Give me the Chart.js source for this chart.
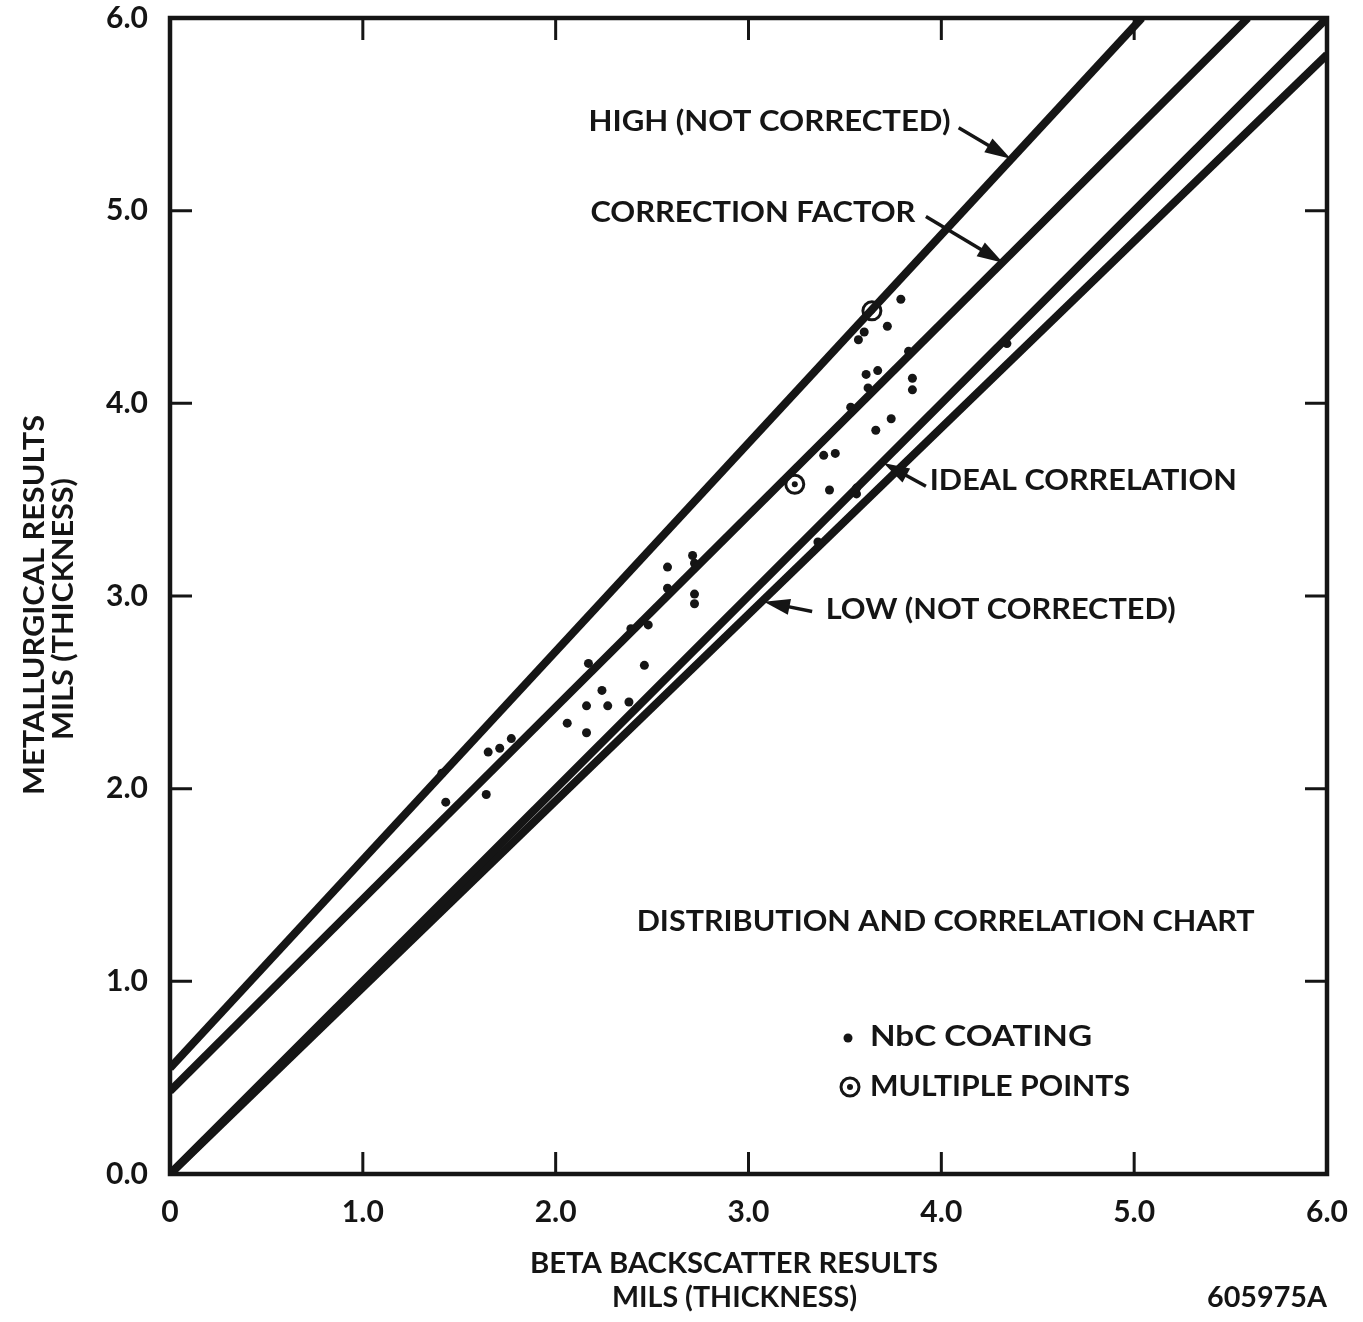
<!DOCTYPE html>
<html>
<head>
<meta charset="utf-8">
<title>Distribution and Correlation Chart</title>
<script src="https://cdn.jsdelivr.net/npm/chart.js@4.4.1/dist/chart.umd.min.js"></script>
<style>
  html, body { margin: 0; background: #fff; }
  #wrap { width: 1363px; height: 1322px; position: relative; }
</style>
</head>
<body>
<div id="wrap"><canvas id="chart"></canvas></div>
<script>
// axis ticks
const xTicks = [0, 1, 2, 3, 4, 5, 6];
const xTickLabels = ['0', '1.0', '2.0', '3.0', '4.0', '5.0', '6.0'];
const yTicks = [0, 1, 2, 3, 4, 5, 6];
const yTickLabels = ['0.0', '1.0', '2.0', '3.0', '4.0', '5.0', '6.0'];

// NbC coating readings (beta backscatter, metallurgical)
const nbcX = [1.41, 1.43, 1.65, 1.71, 1.77, 1.64, 2.06, 2.16, 2.16, 2.24, 2.27, 2.38, 2.46, 2.17,
              2.39, 2.48, 2.58, 2.58, 2.71, 2.72, 2.72, 2.72,
              3.79, 3.72, 3.60, 3.57, 3.83, 3.61, 3.67, 3.85, 3.85, 3.62, 3.53, 3.74, 3.66,
              3.39, 3.45, 3.42, 3.56, 3.56, 4.34, 3.36];
const nbcY = [2.08, 1.93, 2.19, 2.21, 2.26, 1.97, 2.34, 2.43, 2.29, 2.51, 2.43, 2.45, 2.64, 2.65,
              2.83, 2.85, 3.15, 3.04, 3.21, 3.17, 3.01, 2.96,
              4.54, 4.40, 4.37, 4.33, 4.27, 4.15, 4.17, 4.13, 4.07, 4.08, 3.98, 3.92, 3.86,
              3.73, 3.74, 3.55, 3.53, 3.56, 4.31, 3.28];

// multiple points
const multiX = [3.64, 3.24];
const multiY = [4.48, 3.58];

// reference lines (end points)
const highX = [0, 5.04];
const highY = [0.55, 6.0];
const corrX = [0, 5.59];
const corrY = [0.43, 6.0];
const idealX = [0, 6];
const idealY = [0, 6];
const lowX = [0, 6];
const lowY = [0, 5.81];

const INK = '#151515';
const FONT = 'Lato, "Noto Sans", sans-serif';

function pts(xs, ys) {
  return xs.map((x, i) => ({ x: x, y: ys[i] }));
}

function lineSet(xs, ys) {
  return {
    type: 'line',
    data: pts(xs, ys),
    borderColor: INK,
    borderWidth: 8,
    pointRadius: 0,
    fill: false,
    tension: 0,
    borderCapStyle: 'butt'
  };
}

// draw text squeezed/stretched to a given width
function fitText(ctx, text, x, y, width, size, rotate) {
  ctx.save();
  ctx.font = 'bold ' + size + 'px ' + FONT;
  const w = ctx.measureText(text).width;
  ctx.translate(x, y);
  if (rotate) ctx.rotate(-Math.PI / 2);
  ctx.scale(width / w, 1);
  ctx.textAlign = 'left';
  ctx.textBaseline = 'middle';
  ctx.fillText(text, 0, 0);
  ctx.restore();
}

function arrow(ctx, x1, y1, x2, y2) {
  const a = Math.atan2(y2 - y1, x2 - x1);
  const len = 26, half = 8;
  ctx.beginPath();
  ctx.moveTo(x1, y1);
  ctx.lineTo(x2 - Math.cos(a) * len * 0.8, y2 - Math.sin(a) * len * 0.8);
  ctx.lineWidth = 3.5;
  ctx.stroke();
  ctx.beginPath();
  ctx.moveTo(x2, y2);
  ctx.lineTo(x2 - Math.cos(a) * len - Math.sin(a) * half, y2 - Math.sin(a) * len + Math.cos(a) * half);
  ctx.lineTo(x2 - Math.cos(a) * len + Math.sin(a) * half, y2 - Math.sin(a) * len - Math.cos(a) * half);
  ctx.closePath();
  ctx.fill();
}

// frame, inward ticks, labels, arrows
const decor = {
  id: 'decor',
  afterDatasetsDraw(chart) {
    const { ctx, chartArea: a, scales } = chart;
    const X = v => scales.x.getPixelForValue(v);
    const Y = v => scales.y.getPixelForValue(v);
    ctx.save();
    ctx.strokeStyle = INK;
    ctx.fillStyle = INK;

    // frame
    ctx.lineWidth = 4.5;
    ctx.strokeRect(a.left, a.top, a.right - a.left, a.bottom - a.top);

    // inward ticks on all four sides
    ctx.lineWidth = 3;
    const tl = 22;
    ctx.beginPath();
    xTicks.slice(1, -1).forEach(v => {
      const px = X(v);
      ctx.moveTo(px, a.bottom); ctx.lineTo(px, a.bottom - tl);
      ctx.moveTo(px, a.top); ctx.lineTo(px, a.top + tl);
    });
    yTicks.slice(1, -1).forEach(v => {
      const py = Y(v);
      ctx.moveTo(a.left, py); ctx.lineTo(a.left + tl, py);
      ctx.moveTo(a.right, py); ctx.lineTo(a.right - tl, py);
    });
    ctx.stroke();

    // line labels with arrows
    fitText(ctx, 'HIGH (NOT CORRECTED)', X(2.17), Y(5.46), 362, 29);
    arrow(ctx, X(4.09), Y(5.43), X(4.36), Y(5.27));
    fitText(ctx, 'CORRECTION FACTOR', X(2.18), Y(4.99), 325, 29);
    arrow(ctx, X(3.92), Y(4.97), X(4.32), Y(4.73));
    fitText(ctx, 'IDEAL CORRELATION', X(3.94), Y(3.60), 307, 29);
    arrow(ctx, X(3.92), Y(3.57), X(3.70), Y(3.69));
    fitText(ctx, 'LOW (NOT CORRECTED)', X(3.40), Y(2.93), 350, 29);
    arrow(ctx, X(3.33), Y(2.92), X(3.08), Y(2.97));

    fitText(ctx, 'DISTRIBUTION AND CORRELATION CHART', X(2.42), Y(1.31), 618, 29);

    // legend
    ctx.beginPath();
    ctx.arc(848, 1038, 4.5, 0, Math.PI * 2);
    ctx.fill();
    fitText(ctx, 'NbC COATING', 870, 1037, 222, 29);
    ctx.beginPath();
    ctx.lineWidth = 3;
    ctx.arc(850, 1087, 9, 0, Math.PI * 2);
    ctx.stroke();
    ctx.beginPath();
    ctx.arc(850, 1087, 3, 0, Math.PI * 2);
    ctx.fill();
    fitText(ctx, 'MULTIPLE POINTS', 870, 1087, 260, 29);

    // axis titles
    fitText(ctx, 'BETA BACKSCATTER RESULTS', 530, 1264, 408, 28);
    fitText(ctx, 'MILS (THICKNESS)', 612, 1298, 245, 28);
    fitText(ctx, '605975A', 1207, 1298, 120, 28);
    fitText(ctx, 'METALLURGICAL RESULTS', 35, 795, 380, 29, true);
    fitText(ctx, 'MILS (THICKNESS)', 64, 740, 262, 29, true);

    ctx.restore();
  }
};

new Chart(document.getElementById('chart'), {
  type: 'scatter',
  data: {
    datasets: [
      lineSet(highX, highY),
      lineSet(corrX, corrY),
      lineSet(idealX, idealY),
      lineSet(lowX, lowY),
      {
        data: pts(nbcX, nbcY),
        pointRadius: 4.5,
        pointBackgroundColor: INK,
        pointBorderWidth: 0
      },
      {
        data: pts(multiX, multiY),
        pointRadius: 9,
        pointBackgroundColor: 'rgba(0,0,0,0)',
        pointBorderColor: INK,
        pointBorderWidth: 3
      },
      {
        data: pts(multiX, multiY),
        pointRadius: 3,
        pointBackgroundColor: INK,
        pointBorderWidth: 0
      }
    ]
  },
  options: {
    responsive: true,
    maintainAspectRatio: false,
    devicePixelRatio: 1,
    animation: false,
    layout: { padding: { top: 18, right: 36, left: 0, bottom: 0 } },
    plugins: {
      legend: { display: false },
      tooltip: { enabled: false }
    },
    scales: {
      x: {
        type: 'linear',
        min: 0,
        max: 6,
        afterFit: s => { s.height = 148; s.paddingLeft = 0; s.paddingRight = 0; },
        afterBuildTicks: s => { s.ticks = xTicks.map(v => ({ value: v })); },
        border: { display: false },
        grid: { display: false, drawTicks: false },
        ticks: {
          padding: 20,
          color: INK,
          font: { family: FONT, size: 30, weight: 'bold' },
          maxRotation: 0,
          autoSkip: false,
          callback: v => xTickLabels[xTicks.indexOf(v)]
        }
      },
      y: {
        type: 'linear',
        min: 0,
        max: 6,
        afterFit: s => { s.width = 170; s.paddingTop = 0; s.paddingBottom = 0; },
        afterBuildTicks: s => { s.ticks = yTicks.map(v => ({ value: v })); },
        border: { display: false },
        grid: { display: false, drawTicks: false },
        ticks: {
          padding: 22,
          color: INK,
          font: { family: FONT, size: 30, weight: 'bold' },
          autoSkip: false,
          callback: v => yTickLabels[yTicks.indexOf(v)]
        }
      }
    }
  },
  plugins: [decor]
});
</script>
</body>
</html>
